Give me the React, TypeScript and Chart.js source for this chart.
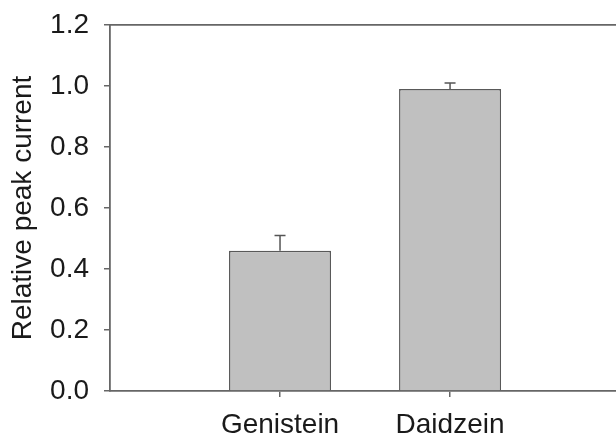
import React, { useEffect, useRef } from "react";
import { Chart, registerables } from "chart.js";

Chart.register(...registerables);

const categories = ["Genistein", "Daidzein"];
const values = [0.46, 0.99];
const errors = [0.05, 0.02];
const yTicks = [0, 0.2, 0.4, 0.6, 0.8, 1.0, 1.2];
const yTitle = "Relative peak current";

const FONT = "'Liberation Sans', Arial, Helvetica, sans-serif";
const AXIS_COLOR = "#666666";

const errorBarPlugin = {
  id: "errorBars",
  afterDatasetsDraw(chart: any) {
    const meta = chart.getDatasetMeta(0);
    const yScale = chart.scales.y;
    const ctx = chart.ctx;
    ctx.save();
    ctx.strokeStyle = "#555555";
    ctx.lineWidth = 1.5;
    meta.data.forEach((bar: any, i: number) => {
      const x = bar.x;
      const top = yScale.getPixelForValue(values[i] + errors[i]);
      const base = yScale.getPixelForValue(values[i]);
      ctx.beginPath();
      ctx.moveTo(x, base);
      ctx.lineTo(x, top);
      ctx.moveTo(x - 5.5, top);
      ctx.lineTo(x + 5.5, top);
      ctx.stroke();
    });
    ctx.restore();
  },
};

export default function App() {
  const ref = useRef<HTMLCanvasElement | null>(null);

  useEffect(() => {
    document.body.style.margin = "0";
    if (!ref.current) return;
    const chart = new Chart(ref.current, {
      type: "bar",
      data: {
        datasets: [
          {
            data: categories.map((_, i) => ({ x: i + 1, y: values[i] })) as any,
            backgroundColor: "#c0c0c0",
            borderColor: "#595959",
            borderWidth: 1.5,
            categoryPercentage: 0.6,
            barPercentage: 1,
          },
        ],
      },
      options: {
        animation: false,
        responsive: false,
        devicePixelRatio: 1,
        layout: { padding: 0 },
        plugins: {
          legend: { display: false },
          tooltip: { enabled: false },
        },
        scales: {
          x: {
            type: "linear",
            position: "bottom",
            offset: false,
            min: 0,
            max: 2.976,
            afterBuildTicks: (scale: any) => {
              scale.ticks = categories.map((_, i) => ({ value: i + 1 }));
            },
            afterFit: (scale: any) => {
              scale.height = 46;
            },
            ticks: {
              callback: (_v: any, index: number) => categories[index],
              font: { family: FONT, size: 28 },
              color: "#1a1a1a",
              padding: 11,
              maxRotation: 0,
              autoSkip: false,
            },
            grid: {
              offset: false,
              drawOnChartArea: false,
              drawTicks: true,
              tickLength: 6,
              color: AXIS_COLOR,
              lineWidth: 1.5,
            },
            border: { display: true, color: AXIS_COLOR, width: 1.8 },
          },
          xTop: {
            type: "linear",
            position: "top",
            offset: false,
            min: 0,
            max: 2.976,
            afterFit: (scale: any) => {
              scale.height = 25;
            },
            ticks: { display: false },
            grid: {
              offset: false,
              drawOnChartArea: false,
              drawTicks: false,
              color: "rgba(0,0,0,0)",
            },
            border: { display: true, color: AXIS_COLOR, width: 1.8 },
          },
          y: {
            type: "linear",
            position: "left",
            min: 0,
            max: 1.2,
            afterBuildTicks: (scale: any) => {
              scale.ticks = yTicks.map((v) => ({ value: v }));
            },
            afterFit: (scale: any) => {
              scale.width = 110;
              scale.paddingTop = 0;
              scale.paddingBottom = 0;
            },
            ticks: {
              callback: (v: any) => Number(v).toFixed(1),
              font: { family: FONT, size: 28 },
              color: "#1a1a1a",
              padding: 15,
            },
            grid: {
              drawOnChartArea: false,
              drawTicks: true,
              tickLength: 6,
              color: AXIS_COLOR,
              lineWidth: 1.5,
            },
            border: { display: true, color: AXIS_COLOR, width: 1.8 },
            title: {
              display: true,
              text: yTitle,
              font: { family: FONT, size: 28 },
              color: "#1a1a1a",
              padding: { top: 6, bottom: 0 },
            },
          },
        },
      },
      plugins: [errorBarPlugin],
    });
    return () => chart.destroy();
  }, []);

  return (
    <div style={{ width: 616, height: 437, background: "#ffffff" }}>
      <canvas ref={ref} width={616} height={437} />
    </div>
  );
}
